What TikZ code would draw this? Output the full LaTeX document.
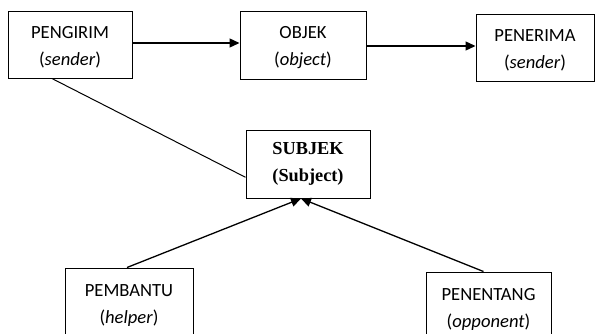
\documentclass[tikz,border=0pt]{standalone}
\usepackage{fontspec}
\setmainfont{Carlito}
\newfontfamily\subjfont{Liberation Serif}
\usetikzlibrary{arrows.meta,calc}
\newcommand{\topstrut}{\rule{0pt}{18pt}}
\begin{document}
\begin{tikzpicture}[x=1pt,y=-1pt,
  box/.style={draw,line width=1pt,align=center,inner sep=0pt,
    font=\fontsize{18.6}{27}\selectfont},
  conn/.style={line width=1.3pt},
  arr/.style={conn,-{Triangle[length=10pt,width=9pt]}}]
\useasboundingbox (0,0) rectangle (596,333);
\clip (0,0) rectangle (596,333);
\node[box,minimum width=124pt,minimum height=67pt] (sender) at (70,44.5) {\topstrut PENGIRIM\\(\textit{sender})};
\node[box,minimum width=126pt,minimum height=68pt] (object) at (303,45) {\topstrut OBJEK\\(\textit{object})};
\node[box,minimum width=118pt,minimum height=67pt] (receiver) at (535,47.5) {\topstrut PENERIMA\\(\textit{sender})};
\node[box,minimum width=124pt,minimum height=68pt,font=\subjfont\bfseries\fontsize{18.3}{27}\selectfont] (subject) at (308,164) {SUBJEK\\(Subject)};
\node[box,minimum width=128pt,minimum height=68pt] (helper) at (129,302) {\topstrut PEMBANTU\\(\textit{helper})};
\node[box,minimum width=125pt,minimum height=68pt] (opponent) at (488.5,306) {\topstrut PENENTANG\\(\textit{opponent})};
\coordinate (hit) at ($(subject.south)+(-7,0)$);
\draw[arr] (sender.east |- 0,43) -- (object.west |- 0,43);
\draw[arr] (object.east |- 0,46) -- (receiver.west |- 0,46);
\draw[line width=1pt] (sender.-118) -- (subject.192);
\draw[arr] ($(helper.north)+(-2,0)$) -- (hit);
\draw[arr] ($(opponent.north)+(-5,0)$) -- (hit);
\end{tikzpicture}
\end{document}
